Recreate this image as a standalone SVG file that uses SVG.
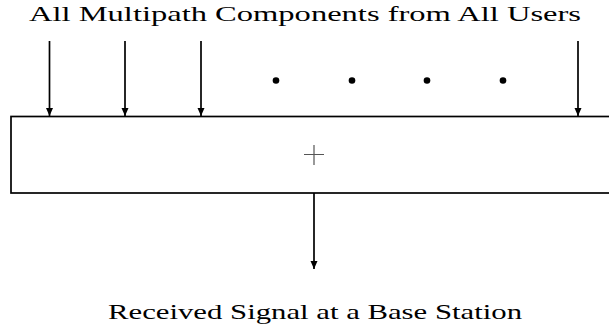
<svg xmlns="http://www.w3.org/2000/svg" width="609" height="332" viewBox="0 0 609 332">
<style>
.ln{stroke:#000;stroke-width:1.7;fill:none}
.dot{fill:#000}
</style>
<defs>
<marker id="ah" viewBox="0 0 8 10" refX="8" refY="5" markerWidth="8" markerHeight="10" markerUnits="userSpaceOnUse" orient="auto">
<path d="M0,1.5 L8,5 L0,8.5 Z" fill="#000"/>
</marker>
</defs>
<g id="title"><text font-family="Liberation Serif" font-size="22" fill="#000" x="29" y="21" textLength="552" lengthAdjust="spacingAndGlyphs">All Multipath Components from All Users</text></g>
<g id="dots">
<circle class="dot" cx="276" cy="80.5" r="3.3"/>
<circle class="dot" cx="352" cy="80.5" r="3.3"/>
<circle class="dot" cx="427" cy="80.5" r="3.3"/>
<circle class="dot" cx="503" cy="80.5" r="3.3"/>
</g>
<g id="adder">
<rect class="ln" x="11" y="116.5" width="610" height="76.5"/>
<path d="M304,154.5 H324 M314,145 V165" stroke="#555" stroke-width="1.2" fill="none"/>
</g>
<g id="output"><text font-family="Times New Roman, serif" font-size="22" fill="#000" x="108" y="319" textLength="414" lengthAdjust="spacingAndGlyphs">Received Signal at a Base Station</text></g>
<g id="connectors">
<line class="ln" x1="49.5" y1="41" x2="49.5" y2="116" marker-end="url(#ah)"/>
<line class="ln" x1="125" y1="41" x2="125" y2="116" marker-end="url(#ah)"/>
<line class="ln" x1="201" y1="41" x2="201" y2="116" marker-end="url(#ah)"/>
<line class="ln" x1="578" y1="41" x2="578" y2="116" marker-end="url(#ah)"/>
<line class="ln" x1="314" y1="193" x2="314" y2="269" marker-end="url(#ah)"/>
</g>
</svg>
